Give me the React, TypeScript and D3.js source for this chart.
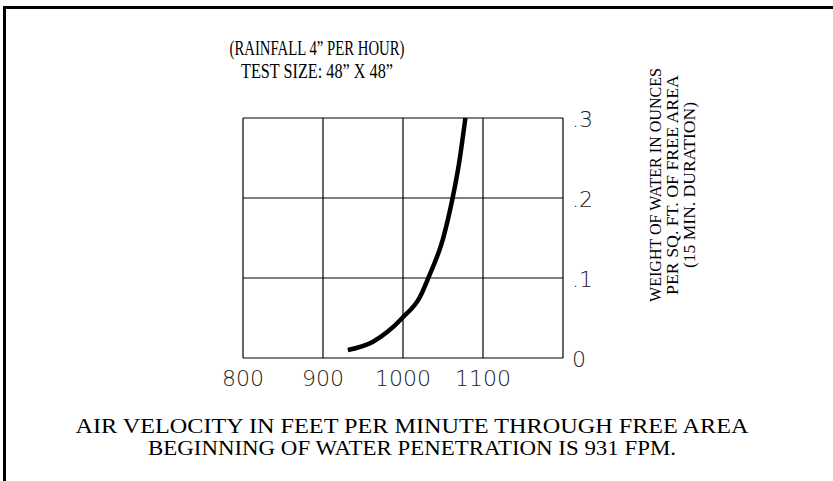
import { useEffect, useRef } from 'react';
import * as d3 from 'd3';

// air velocity (fpm) vs weight of water (oz / sq ft free area)
const velocity = [931, 962, 981, 1000, 1021, 1032, 1050, 1062, 1070, 1078];
const water = [0.01, 0.02, 0.033, 0.051, 0.076, 0.101, 0.149, 0.2, 0.243, 0.3];

const xTicks = [800, 900, 1000, 1100];
const xGrid = [800, 900, 1000, 1100, 1200];
const yTicks = [0, 0.1, 0.2, 0.3];
const yTickLabels = ['0', '.1', '.2', '.3'];

const titleLines = ['(RAINFALL 4\u201D PER HOUR)', 'TEST SIZE:  48\u201D X 48\u201D'];
const titleWidths = [175, 152];
const yTitleLines = ['WEIGHT OF WATER IN OUNCES', 'PER SQ. FT. OF FREE AREA', '(15 MIN. DURATION)'];
const yTitleWidths = [234, 220, 166];
const footLines = [
    'AIR VELOCITY IN FEET PER MINUTE THROUGH FREE AREA',
    'BEGINNING OF WATER PENETRATION IS 931 FPM.'
];
const footWidths = [673, 528];

const W = 833;
const H = 481;
const serif = '"Liberation Serif", "Times New Roman", serif';
const cad = '"DejaVu Sans", sans-serif';

export default function App() {
    const svgRef = useRef<SVGSVGElement>(null);

    useEffect(() => {
        document.body.style.margin = '0';
        if (!svgRef.current) return;
        const svg = d3.select(svgRef.current);
        svg.selectAll('*').remove();

        const x = d3.scaleLinear().domain([800, 1200]).range([243, 563]);
        const y = d3.scaleLinear().domain([0, 0.3]).range([358, 118]);

        svg.append('rect').attr('width', W).attr('height', H).attr('fill', '#fff');

        // frame (top and left edges)
        svg.append('path')
            .attr('d', `M4.5,${H} V7.5 H${W}`)
            .attr('fill', 'none')
            .attr('stroke', '#000')
            .attr('stroke-width', 3);

        // title (tall, condensed lettering)
        svg.append('g')
            .selectAll('text')
            .data(titleLines)
            .enter()
            .append('text')
            .attr('x', 317)
            .attr('y', (_, i) => 55 + i * 23)
            .attr('text-anchor', 'middle')
            .attr('textLength', (_, i) => titleWidths[i])
            .attr('lengthAdjust', 'spacingAndGlyphs')
            .style('font-family', serif)
            .style('font-size', '21px')
            .text(d => d);

        // grid
        const grid = svg.append('g').attr('stroke', '#000').attr('stroke-width', 1.2);
        grid.selectAll('.v')
            .data(xGrid)
            .enter()
            .append('line')
            .attr('x1', d => x(d)).attr('x2', d => x(d))
            .attr('y1', y(0)).attr('y2', y(0.3));
        grid.selectAll('.h')
            .data(yTicks)
            .enter()
            .append('line')
            .attr('y1', d => y(d)).attr('y2', d => y(d))
            .attr('x1', x(800)).attr('x2', x(1200));

        // x tick labels (thin CAD-like font)
        svg.append('g')
            .selectAll('text')
            .data(xTicks)
            .enter()
            .append('text')
            .attr('x', d => x(d))
            .attr('y', 386)
            .attr('text-anchor', 'middle')
            .style('font-family', cad)
            .style('font-size', '22px')
            .style('font-weight', 200)
            .attr('fill', '#222')
            .text(d => String(d));

        // y tick labels
        svg.append('g')
            .selectAll('text')
            .data(yTicks)
            .enter()
            .append('text')
            .attr('x', 572)
            .attr('y', d => y(d) + 9)
            .style('font-family', cad)
            .style('font-size', '22px')
            .style('font-weight', 200)
            .attr('fill', '#222')
            .text((_, i) => yTickLabels[i]);

        // curve
        const line = d3.line<number>()
            .x((_, i) => x(velocity[i]))
            .y(d => y(d))
            .curve(d3.curveMonotoneX);
        svg.append('path')
            .datum(water)
            .attr('d', line)
            .attr('fill', 'none')
            .attr('stroke', '#000')
            .attr('stroke-width', 4.5);

        // rotated y title
        svg.append('g')
            .selectAll('text')
            .data(yTitleLines)
            .enter()
            .append('text')
            .attr('transform', (_, i) => `translate(${661 + i * 17},185) rotate(-90)`)
            .attr('text-anchor', 'middle')
            .attr('textLength', (_, i) => yTitleWidths[i])
            .attr('lengthAdjust', 'spacingAndGlyphs')
            .style('font-family', serif)
            .style('font-size', '17px')
            .text(d => d);

        // footer
        svg.append('g')
            .selectAll('text')
            .data(footLines)
            .enter()
            .append('text')
            .attr('x', 412)
            .attr('y', (_, i) => 433 + i * 22)
            .attr('text-anchor', 'middle')
            .attr('textLength', (_, i) => footWidths[i])
            .attr('lengthAdjust', 'spacingAndGlyphs')
            .style('font-family', serif)
            .style('font-size', '21px')
            .text(d => d);
    }, []);

    return (
        <div style={{ position: 'absolute', left: 0, top: 0 }}>
            <svg ref={svgRef} width={W} height={H} style={{ display: 'block' }}></svg>
        </div>
    );
}
